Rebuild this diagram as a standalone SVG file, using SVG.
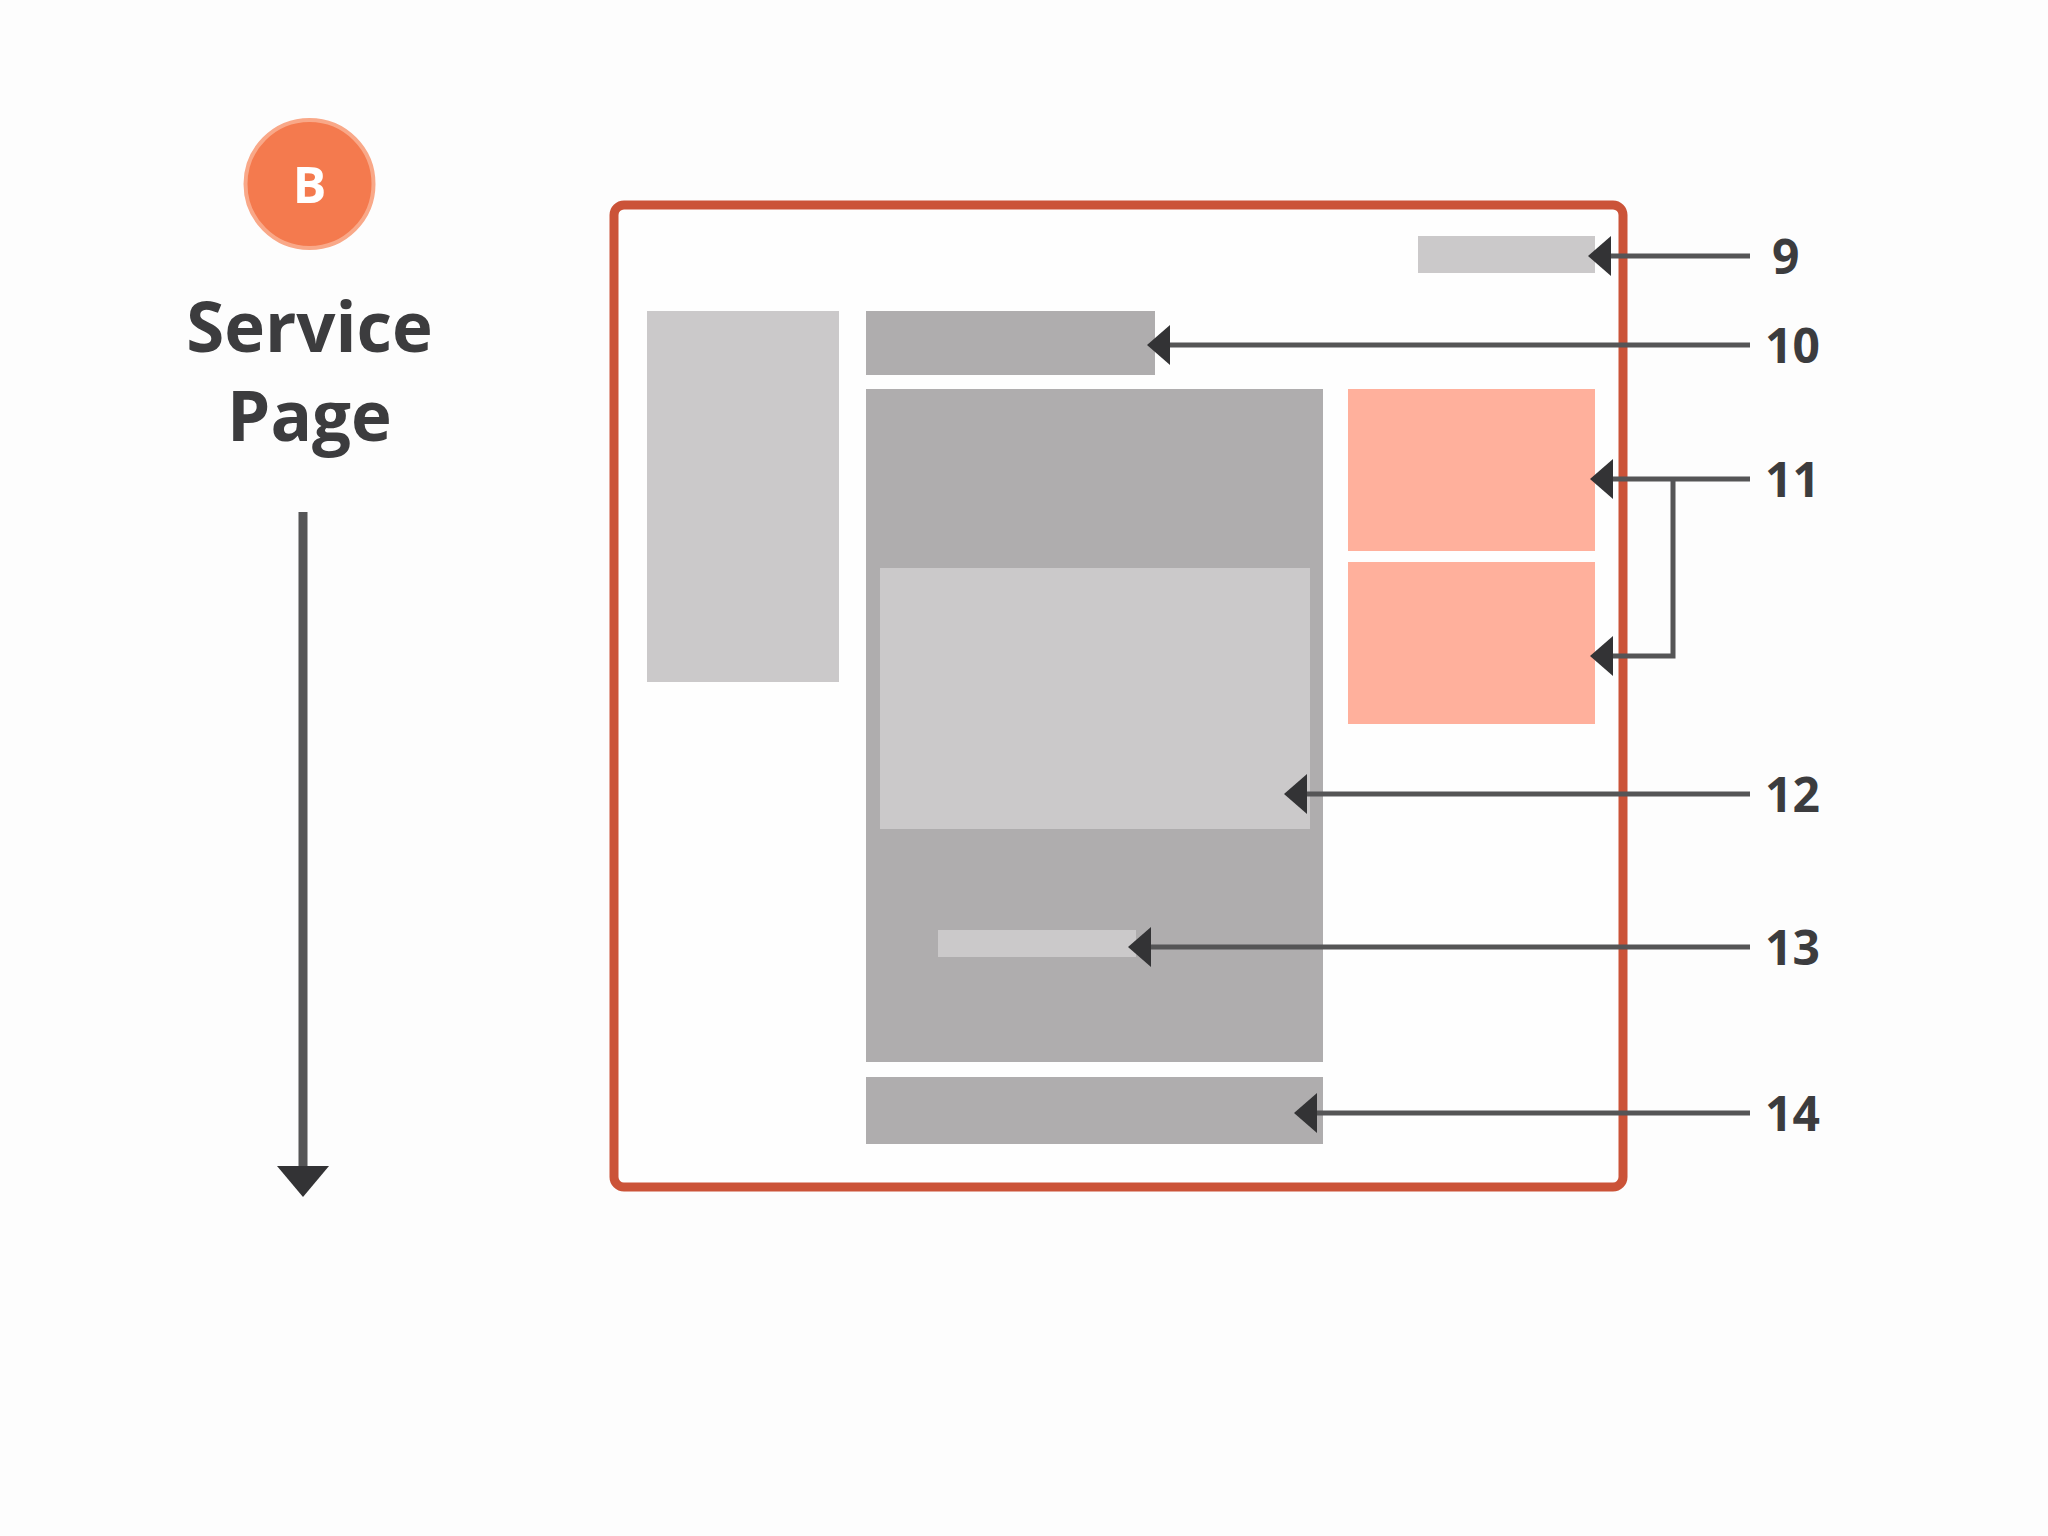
<svg xmlns="http://www.w3.org/2000/svg" width="2048" height="1536" viewBox="0 0 2048 1536">
<defs>
<style>
.lt{fill:#CBC9CA}
.dk{fill:#AFADAE}
.pk{fill:#FFB09C}
.lbl{font-family:"Open Sans","Liberation Sans",sans-serif;font-weight:700;font-size:48px;fill:#3c3c3e}
.ttl{font-family:"Open Sans","Liberation Sans",sans-serif;font-weight:700;font-size:69px;fill:#3c3c3e;text-anchor:middle}
.con{fill:none;stroke:#555556;stroke-width:5}
</style>
<marker id="ah" markerUnits="userSpaceOnUse" markerWidth="24" markerHeight="42" viewBox="0 0 24 42" refX="5" refY="21" orient="auto">
<path d="M0,1 L23,21 L0,41 Z" fill="#333335"/>
</marker>
</defs>
<rect width="2048" height="1536" fill="#fdfdfd"/>

<g id="badge">
<circle cx="309.5" cy="184" r="64" fill="#F47A4E" stroke="#F9A888" stroke-width="4"/>
<text x="309.5" y="203" font-family="Open Sans, Liberation Sans, sans-serif" font-weight="700" font-size="50" fill="#ffffff" text-anchor="middle">B</text>
</g>

<g id="title">
<text class="ttl" x="309.5" y="352">Service</text>
<text class="ttl" x="309.5" y="441">Page</text>
</g>

<g id="frame">
<rect x="614" y="205" width="1009" height="982" rx="10" ry="10" fill="#fefefe" stroke="#CB5338" stroke-width="9"/>
</g>

<g id="box-left"><rect class="lt" x="647" y="311" width="192" height="371"/></g>
<g id="box-10"><rect class="dk" x="866" y="311" width="289" height="64"/></g>
<g id="box-main"><rect class="dk" x="866" y="389" width="457" height="673"/></g>
<g id="box-12"><rect class="lt" x="880" y="568" width="430" height="261"/></g>
<g id="box-13"><rect class="lt" x="938" y="930" width="198" height="27"/></g>
<g id="box-14"><rect class="dk" x="866" y="1077" width="457" height="67"/></g>
<g id="box-9"><rect class="lt" x="1418" y="236" width="177" height="37"/></g>
<g id="box-11a"><rect class="pk" x="1348" y="389" width="247" height="162"/></g>
<g id="box-11b"><rect class="pk" x="1348" y="562" width="247" height="162"/></g>

<g id="connectors">
<line class="con" x1="1750" y1="256" x2="1606" y2="256" marker-end="url(#ah)"/>
<line class="con" x1="1750" y1="345" x2="1165" y2="345" marker-end="url(#ah)"/>
<line class="con" x1="1750" y1="479" x2="1608" y2="479" marker-end="url(#ah)"/>
<polyline class="con" points="1673,479 1673,656 1608,656" marker-end="url(#ah)"/>
<line class="con" x1="1750" y1="794" x2="1302" y2="794" marker-end="url(#ah)"/>
<line class="con" x1="1750" y1="947" x2="1146" y2="947" marker-end="url(#ah)"/>
<line class="con" x1="1750" y1="1113" x2="1312" y2="1113" marker-end="url(#ah)"/>
<line x1="303" y1="512" x2="303" y2="1170" stroke="#555556" stroke-width="9"/>
<polygon points="277,1166 329,1166 303,1197" fill="#333335"/>
</g>

<g id="labels">
<text class="lbl" x="1772" y="274">9</text>
<text class="lbl" x="1765" y="363">10</text>
<text class="lbl" x="1765" y="497">11</text>
<text class="lbl" x="1765" y="812">12</text>
<text class="lbl" x="1765" y="965">13</text>
<text class="lbl" x="1765" y="1131">14</text>
</g>
</svg>
